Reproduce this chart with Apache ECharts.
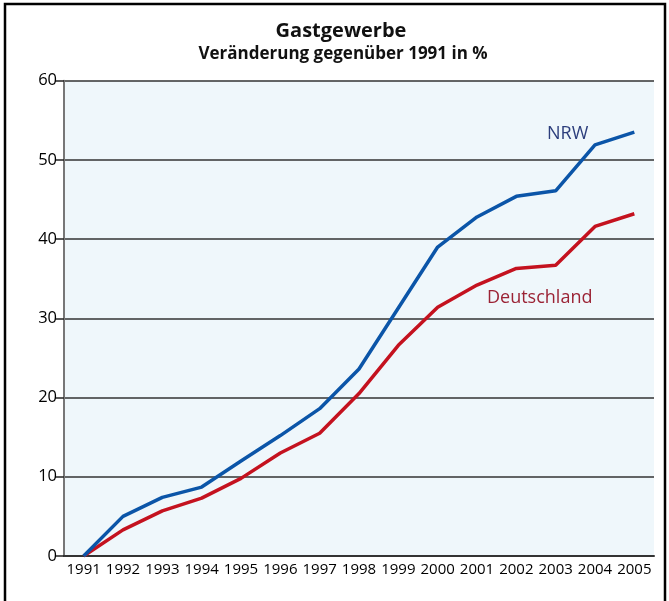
<!DOCTYPE html>
<html>
<head>
<meta charset="utf-8">
<script src="https://cdn.jsdelivr.net/npm/echarts@6/dist/echarts.min.js"></script>
<style>
html,body{margin:0;padding:0;background:#fff;}
#chart{width:669px;height:601px;}
</style>
</head>
<body>
<div id="chart"></div>
<script>
const years = ['1991','1992','1993','1994','1995','1996','1997','1998','1999','2000','2001','2002','2003','2004','2005'];
const nrw = [0, 5.0, 7.4, 8.7, 12.0, 15.2, 18.6, 23.6, 31.3, 39.0, 42.8, 45.4, 46.1, 51.9, 53.5];
const deutschland = [0, 3.3, 5.7, 7.3, 9.8, 13.0, 15.5, 20.5, 26.6, 31.4, 34.2, 36.3, 36.7, 41.6, 43.2];
const yTicks = [0, 10, 20, 30, 40, 50, 60];

const chart = echarts.init(document.getElementById('chart'), null, {renderer: 'canvas'});
const font = 'Open Sans';
chart.setOption({
  animation: false,
  backgroundColor: '#ffffff',
  title: [
    {text: 'Gastgewerbe', left: 336, top: 16, textAlign: 'center',
     textStyle: {fontFamily: font, fontWeight: 'bold', fontSize: 20, color: '#111'}},
    {text: 'Veränderung gegenüber 1991 in %', left: 338, top: 41, textAlign: 'center',
     textStyle: {fontFamily: font, fontWeight: 'bold', fontSize: 17, color: '#111'}}
  ],
  grid: {left: 64, right: 15, top: 80.7, bottom: 45, show: true, backgroundColor: '#eff7fb', borderWidth: 0},
  xAxis: {
    type: 'category', data: years, boundaryGap: true,
    axisLine: {show: true, lineStyle: {color: '#333', width: 2}},
    axisTick: {show: false},
    axisLabel: {fontFamily: font, fontSize: 15, color: '#000', margin: 6, interval: 0}
  },
  yAxis: {
    type: 'value', min: yTicks[0], max: yTicks[yTicks.length - 1], interval: 10,
    axisLine: {show: true, lineStyle: {color: '#777', width: 2}},
    axisTick: {show: true, length: 9, lineStyle: {color: '#222', width: 1.5}},
    axisLabel: {fontFamily: font, fontSize: 16.5, color: '#000', margin: 7},
    splitLine: {show: true, lineStyle: {color: '#333', width: 1.5}}
  },
  series: [
    {name: 'NRW', type: 'line', data: nrw, symbol: 'none', lineStyle: {color: '#0b55a8', width: 3.5}, z: 3},
    {name: 'Deutschland', type: 'line', data: deutschland, symbol: 'none', lineStyle: {color: '#c4121f', width: 3.5}, z: 2}
  ],
  graphic: [
    {type: 'rect', shape: {x: 5, y: 4, width: 660, height: 700}, style: {fill: 'none', stroke: '#000', lineWidth: 2.5}, z: 100},
    {type: 'text', left: 547, top: 125, style: {text: 'NRW', fontFamily: font, fontSize: 18, fill: '#2c3e7c'}, z: 50},
    {type: 'text', left: 487, top: 289, style: {text: 'Deutschland', fontFamily: font, fontSize: 18, fill: '#9b2335'}, z: 50}
  ]
});
</script>
</body>
</html>
